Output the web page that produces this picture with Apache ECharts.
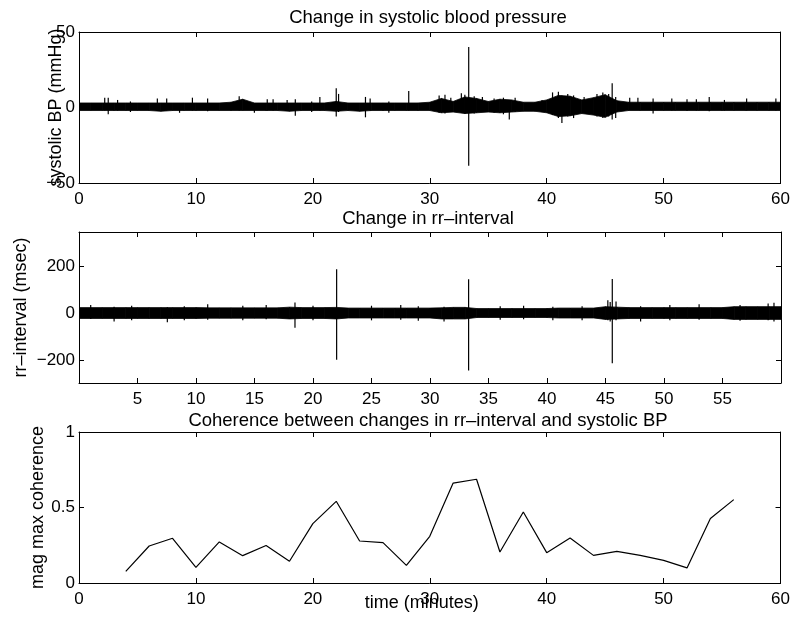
<!DOCTYPE html>
<html><head><meta charset="utf-8">
<script src="https://cdn.jsdelivr.net/npm/echarts@6.0.0/dist/echarts.min.js"></script>
<style>html,body{margin:0;padding:0;background:#fff}#c{width:793px;height:618px}</style>
</head><body><div id="c"></div>
<script>
// ---------- DATA ----------
// envelope sample times (minutes)
const envTime = [0,1,2,3,4,5,6,7,8,9,10,11,12,13,14,15,16,17,18,19,20,21,22,23,24,25,26,27,28,29,30,
  31,32,33,34,35,36,37,38,39,40,41,42,43,44,45,46,47,48,49,50,51,52,53,54,55,56,57,58,59,60];
// Panel 1: change in systolic BP (mmHg) – envelope of the dense trace
const bpUpper = [3,3,3,3,3,3,3,3,3,3,3,3,3,3.5,5.5,3,3,3,3,3,3,3,4,3,3,3,3,3,3,3,3.5,
  6,4,7,6,4,5.5,5,3.5,3.5,5,8,7.5,5,6.5,8.5,4.5,3.5,3.5,3.5,3.5,3.5,3.5,3.5,3.5,3.5,3.5,3.5,3.5,3.5,3.5];
const bpLower = [-2,-2,-2,-2,-2,-2,-2,-2.5,-2,-2,-2,-2,-2,-2,-2,-2,-2,-2,-2.5,-2,-2,-2,-2.5,-2,-2.5,-2,-2,-2,-2,-2,-2,
  -3.5,-3,-4,-3.5,-3,-3.5,-3,-2.5,-2.5,-3.5,-6,-5.5,-4,-5,-6.5,-3,-2,-2,-2,-2,-2,-2,-2,-2,-2,-2,-2,-2,-2,-2];
// Panel 1 spikes: time, low, high
const bpSpikeTime = [2.2,2.5,3.3,4.4,6.7,7.5,8.6,9.7,11.0,13.7,15.0,16.1,16.6,17.8,18.5,19.9,20.6,22.0,22.2,24.5,24.9,26.5,28.2,
  30.8,31.3,31.8,32.7,33.0,33.33,33.8,34.5,35.5,36.3,36.8,37.3,39.6,
  40.5,41.0,41.3,41.8,42.3,43.2,44.3,44.8,45.3,45.6,45.9,47.1,47.8,49.1,50.7,52.0,52.8,53.9,55.2,57.1,59.6];
const bpSpikeLow = [-2,-4.5,-2,-3,-2,-2,-3.5,-2,-2.5,-2,-3.5,-2,-2,-2,-5.5,-3,-2,-6,-3,-6.5,-2,-3.5,-2,
  -3.5,-4,-2.5,-3,-4,-38.6,-4,-3,-3.5,-4.5,-8,-3,-3,
  -5,-7,-10.3,-6,-7,-4,-6,-7,-6,-8,-7,-1.5,-1.5,-4,-2,-2,-2,-2.5,-2,-2,-2];
const bpSpikeHigh = [6.5,6.5,5,4,6,6,3,6.5,6,7.5,3,5.5,5.5,5,5.5,4,7,12.8,9,7,6,4,11,
  8,8.5,6.5,9.5,8.5,40,7.5,7,6,6.5,5,6.5,5,
  10,10.5,8,9,8,7,9,10,9,16,7,6.5,6.5,6,6,5.5,5.5,7,5,6,6];

// Panel 2: change in rr-interval (msec) – envelope
const rrUpper = [24,24,24,24,24,24,24,24,24,24,24,23,23,23,23,23,23,23,26,24,24,24,25,22,22,22,22,22,22,22,22,
  23,25,25,20,20,20,20,20,20,20,22,22,22,22,28,26,24,24,24,24,24,24,24,24,24,28,28,28,28,28];
const rrLower = [-22,-22,-22,-22,-22,-22,-22,-22,-22,-22,-22,-21,-21,-21,-21,-21,-21,-21,-24,-22,-22,-22,-24,-20,-20,-20,-20,-20,-20,-20,-20,
  -24,-24,-24,-18,-18,-18,-18,-18,-18,-18,-20,-20,-20,-20,-26,-24,-22,-22,-22,-22,-22,-22,-22,-22,-22,-26,-26,-26,-26,-26];
const rrSpikeTime = [1.0,3.0,4.5,7.55,9.0,11.0,14.0,16.0,18.46,20.0,22.02,25.0,27.5,29.0,31.2,33.3,36.0,38.0,40.5,43.0,
  45.2,45.4,45.58,45.9,48.0,50.5,53.0,56.5,58.9,59.4];
const rrSpikeLow = [-24,-35,-30,-38,-30,-28,-30,-25,-61,-30,-197,-30,-28,-32,-35,-243,-28,-25,-30,-30,
  -30,-35,-212,-30,-35,-30,-28,-32,-30,-35];
const rrSpikeHigh = [35,28,32,26,30,38,32,35,46,32,187,32,35,30,28,144,30,32,28,30,
  55,48,145,50,30,35,38,35,42,45];

// Panel 3: coherence
const cohTime = [4,6,8,10,12,14,16,18,20,22,24,26,28,30,32,34,36,38,40,42,44,46,48,50,52,54,56];
const cohValue = [0.077,0.245,0.296,0.104,0.272,0.181,0.248,0.144,0.393,0.541,0.278,0.267,0.117,0.309,
  0.662,0.687,0.205,0.470,0.201,0.298,0.183,0.210,0.183,0.150,0.100,0.427,0.552];

// tick labels
const xTicks10 = [0,10,20,30,40,50,60];
const xTicks5 = [5,10,15,20,25,30,35,40,45,50,55];
const bpTicks = [-50,0,50];
const rrTicks = [-200,0,200];
const cohTicks = [0,0.5,1];

const titles = ['Change in systolic blood pressure','Change in rr\u2013interval','Coherence between changes in rr\u2013interval and systolic BP'];
const yNames = ['systolic BP (mmHg)','rr\u2013interval (msec)','mag max coherence'];
const xName = 'time (minutes)';

// ---------- CHART ----------
const FONT = '"Liberation Sans", Arial, Helvetica, sans-serif';
const FS = 17;
const chart = echarts.init(document.getElementById('c'), null, {renderer:'canvas'});

const grids = [
  {left:79, top:32, width:702, height:151},
  {left:79, top:232, width:702, height:151},
  {left:79, top:432, width:702, height:151}
];
const fmt = v => String(v).replace('-', '\u2212');
const lineStyle = {color:'#000', width:1};

function xAxes(gi, ticks, withName) {
  const base = {type:'value', gridIndex:gi, min:0, max:60,
    axisLine:{show:true, onZero:false, lineStyle},
    splitLine:{show:false}};
  const bottom = Object.assign({}, base, {position:'bottom',
    axisTick:{show:true, inside:true, length:5, lineStyle, customValues:ticks},
    axisLabel:{show:true, margin:8, color:'#000', fontSize:FS, fontFamily:FONT, customValues:ticks, formatter:fmt}});
  if (withName) {
    Object.assign(bottom, {name:xName, nameLocation:'middle', nameGap:11, nameMoveOverlap:false,
      nameTextStyle:{color:'#000', fontSize:FS+1, fontFamily:FONT, padding:[0,16,0,0], verticalAlign:'top'}});
  }
  const top = Object.assign({}, base, {position:'top',
    axisTick:{show:true, inside:true, length:5, lineStyle, customValues:ticks},
    axisLabel:{show:false}});
  return [bottom, top];
}
function yAxes(gi, min, max, ticks, name, gap) {
  const base = {type:'value', gridIndex:gi, min, max,
    axisLine:{show:true, onZero:false, lineStyle}, splitLine:{show:false}};
  const left = Object.assign({}, base, {position:'left',
    axisTick:{show:true, inside:true, length:5, lineStyle, customValues:ticks},
    axisLabel:{show:true, margin:4, color:'#000', fontSize:FS, fontFamily:FONT, customValues:ticks, formatter:fmt},
    name, nameLocation:'middle', nameRotate:90, nameGap:gap, nameMoveOverlap:false,
    nameTextStyle:{color:'#000', fontSize:FS+1, fontFamily:FONT}});
  const right = Object.assign({}, base, {position:'right',
    axisTick:{show:true, inside:true, length:5, lineStyle, customValues:ticks},
    axisLabel:{show:false}});
  return [left, right];
}

function band(ai, t, up, lo) {
  const data = [];
  for (let i = 0; i < t.length - 1; i++) data.push([t[i], t[i+1], lo[i], up[i], lo[i+1], up[i+1]]);
  return {type:'custom', xAxisIndex:ai, yAxisIndex:ai, data, silent:true, clip:true,
    encode:{x:[0,1], y:[2,3,4,5]},
    renderItem(params, api) {
      const a = api.coord([api.value(0), api.value(3)]);
      const b = api.coord([api.value(1), api.value(5)]);
      const c = api.coord([api.value(1), api.value(4)]);
      const d = api.coord([api.value(0), api.value(2)]);
      return {type:'polygon', shape:{points:[a,b,c,d]}, style:{fill:'#000', stroke:'#000', lineWidth:0.8}};
    }};
}
function spikes(ai, t, lo, hi) {
  const data = t.map((v, i) => [v, lo[i], hi[i]]);
  return {type:'custom', xAxisIndex:ai, yAxisIndex:ai, data, silent:true, clip:true,
    encode:{x:0, y:[1,2]},
    renderItem(params, api) {
      const p1 = api.coord([api.value(0), api.value(1)]);
      const p2 = api.coord([api.value(0), api.value(2)]);
      return {type:'line', shape:{x1:p1[0], y1:p1[1], x2:p2[0], y2:p2[1]}, style:{stroke:'#000', lineWidth:1.2}};
    }};
}

const xAxis = [...xAxes(0, xTicks10, false), ...xAxes(1, xTicks5, false), ...xAxes(2, xTicks10, true)];
const yAxis = [...yAxes(0, -50, 50, bpTicks, yNames[0], 14), ...yAxes(1, -296, 345, rrTicks, yNames[1], 49), ...yAxes(2, 0, 1, cohTicks, yNames[2], 32)];

const titleTops = [8, 209, 411];
const graphic = titles.map((txt, i) => ({type:'text', x:428, y:titleTops[i],
  style:{text:txt, fill:'#000', fontSize:18.5, fontFamily:FONT, textAlign:'center', textVerticalAlign:'top'}}));

const option = {
  animation:false,
  backgroundColor:'#fff',
  grid: grids,
  xAxis: xAxis,
  yAxis: yAxis,
  graphic: graphic,
  series: [
    band(0, envTime, bpUpper, bpLower),
    spikes(0, bpSpikeTime, bpSpikeLow, bpSpikeHigh),
    band(2, envTime, rrUpper, rrLower),
    spikes(2, rrSpikeTime, rrSpikeLow, rrSpikeHigh),
    {type:'line', xAxisIndex:4, yAxisIndex:4, data: cohTime.map((t, i) => [t, cohValue[i]]),
      showSymbol:false, symbol:'none', lineStyle:{color:'#000', width:1.2}, silent:true}
  ]
};
chart.setOption(option);
</script></body></html>
